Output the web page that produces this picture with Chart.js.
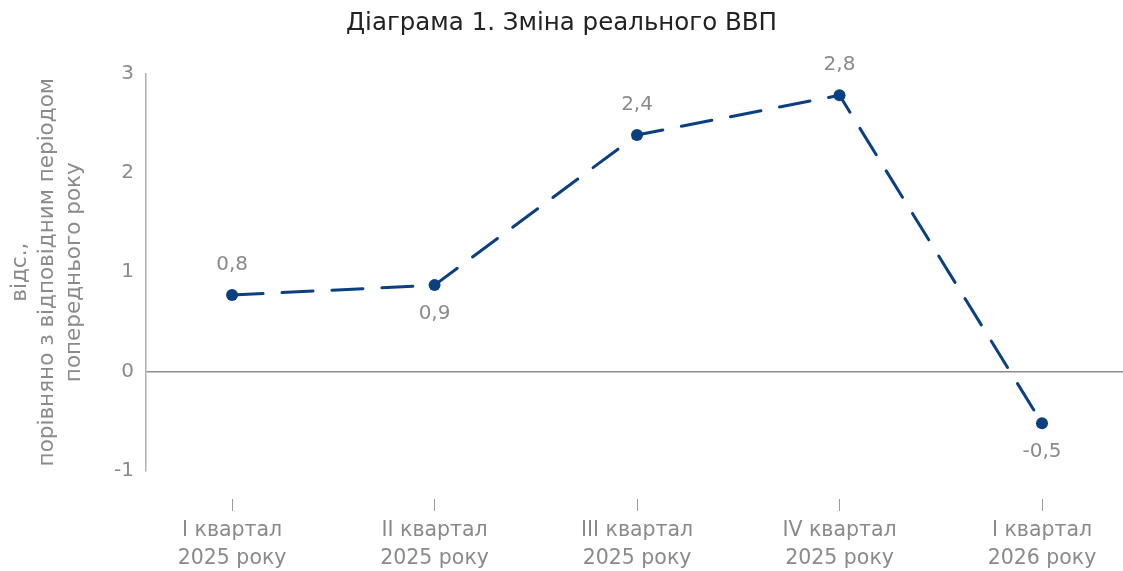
<!DOCTYPE html>
<html>
<head>
<meta charset="utf-8">
<script src="https://cdn.jsdelivr.net/npm/chart.js@4"></script>
<style>
  html, body { margin: 0; padding: 0; background: #fff; }
  #wrap { width: 1123px; height: 571px; position: relative; }
</style>
</head>
<body>
<div id="wrap"><canvas id="gdpChart"></canvas></div>
<script>
  const quarters = [
    ["I квартал", "2025 року"],
    ["II квартал", "2025 року"],
    ["III квартал", "2025 року"],
    ["IV квартал", "2025 року"],
    ["I квартал", "2026 року"]
  ];
  const gdpChange = [0.77, 0.87, 2.38, 2.78, -0.52];
  const labelSide = ["above", "below", "above", "above", "below"];
  const yTicks = [-1, 0, 1, 2, 3];

  const FONT = "'DejaVu Sans', sans-serif";
  const GREY = "#8a8a8a";
  const BLUE = "#0b3f7f";

  // value labels next to the points
  const pointLabels = {
    id: "pointLabels",
    afterDatasetsDraw(chart) {
      const ctx = chart.ctx;
      const meta = chart.getDatasetMeta(0);
      ctx.save();
      ctx.font = "20px " + FONT;
      ctx.fillStyle = GREY;
      ctx.textAlign = "center";
      ctx.textBaseline = "middle";
      meta.data.forEach((pt, i) => {
        const txt = gdpChange[i].toFixed(1).replace(".", ",");
        const dy = labelSide[i] === "above" ? -30 : 29;
        ctx.fillText(txt, pt.x, pt.y + dy);
      });
      ctx.restore();
    }
  };

  const ctx = document.getElementById("gdpChart").getContext("2d");
  new Chart(ctx, {
    type: "line",
    data: {
      datasets: [{
        label: "ВВП",
        data: gdpChange.map((v, i) => ({ x: i, y: v })),
        borderColor: BLUE,
        backgroundColor: BLUE,
        borderWidth: 3,
        borderDash: [31, 19],
        borderCapStyle: "round",
        pointRadius: 6,
        pointHoverRadius: 6,
        pointBackgroundColor: BLUE,
        pointBorderWidth: 0,
        tension: 0,
        fill: false
      }]
    },
    options: {
      responsive: true,
      maintainAspectRatio: false,
      animation: false,
      layout: { autoPadding: false, padding: 0 },
      plugins: {
        legend: { display: false },
        tooltip: { enabled: false },
        title: {
          display: true,
          text: "Діаграма 1. Зміна реального ВВП",
          color: "#222",
          font: { family: FONT, size: 24.5, weight: "normal" },
          padding: { top: 9, bottom: 35 }
        }
      },
      scales: {
        x: {
          type: "linear",
          min: -0.425,
          max: 4.4,
          afterFit: s => { s.paddingLeft = 0; s.paddingRight = 0; s.height = 100; },
          border: { display: false },
          grid: {
            drawOnChartArea: false,
            drawTicks: true,
            tickLength: 40,
            tickColor: "#999",
            tickWidth: 1,
            tickBorderDash: [0, 28, 13]
          },
          ticks: {
            stepSize: 1,
            includeBounds: false,
            autoSkip: false,
            maxRotation: 0,
            padding: 6,
            color: GREY,
            font: { family: FONT, size: 20.5, lineHeight: 1.37 },
            callback: v => quarters[v] || ""
          }
        },
        y: {
          min: yTicks[0],
          max: yTicks[yTicks.length - 1],
          afterFit: s => { s.width = 146; },
          border: { display: true, color: "#b0b0b0", width: 1.5 },
          grid: {
            drawTicks: false,
            color: c => (c.tick && c.tick.value === 0 ? "#8c8c8c" : "transparent"),
            lineWidth: 1.5
          },
          ticks: {
            stepSize: 1,
            padding: 12,
            color: GREY,
            font: { family: FONT, size: 20 }
          },
          title: {
            display: true,
            text: ["відс.,", "порівняно з відповідним періодом", "попереднього року"],
            color: GREY,
            font: { family: FONT, size: 21.5, lineHeight: 1.256 },
            padding: { top: 7, bottom: 0 }
          }
        }
      }
    },
    plugins: [pointLabels]
  });
</script>
</body>
</html>
